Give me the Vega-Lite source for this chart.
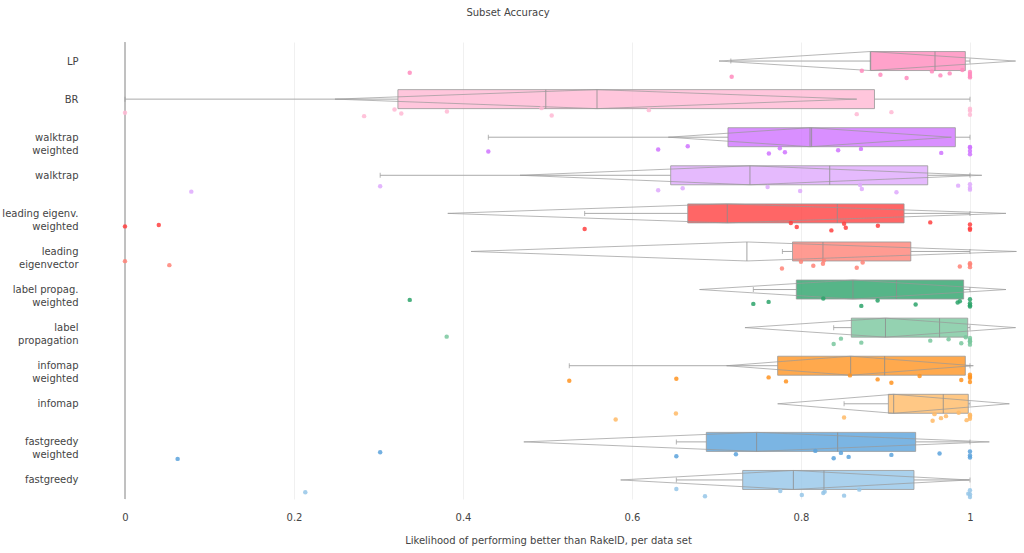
{
  "$schema": "https://vega.github.io/schema/vega-lite/v6.json",
  "width": 912,
  "height": 457,
  "autosize": "none",
  "padding": {"left": 108, "top": 42, "right": 4, "bottom": 54},
  "background": "white",
  "title": {"text": "Subset Accuracy", "anchor": "middle", "frame": "group", "dx": -56, "offset": 24, "font": "DejaVu Sans", "fontSize": 10, "fontWeight": "normal", "color": "#444"},
  "config": {
    "view": {"stroke": null},
    "axisX": {
      "grid": true, "gridColor": "#f0f0f0", "domain": false, "ticks": false,
      "labelPadding": 13, "titlePadding": 13, "titleX": 440,
      "labelFont": "DejaVu Sans", "labelFontSize": 10, "labelColor": "#444",
      "titleFont": "DejaVu Sans", "titleFontSize": 10, "titleFontWeight": "normal", "titleColor": "#444"
    },
    "axisY": {
      "ticks": false, "domain": false, "grid": false, "labelOverlap": false,
      "labelPadding": 30, "labelFont": "DejaVu Sans", "labelFontSize": 10, "labelColor": "#444", "labelLineHeight": 13
    }
  },
  "datasets": {
    "stats": [
      {"m": "LP", "lo": 0.717, "q1": 0.8825, "med": 0.9586, "mean": 0.882, "q3": 0.9945, "hi": 1.0, "dl": 0.703, "dr": 1.054},
      {"m": "BR", "lo": 0.0, "q1": 0.323, "med": 0.498, "mean": 0.5586, "q3": 0.887, "hi": 1.0, "dl": 0.2485, "dr": 0.866},
      {"m": "walktrap weighted", "lo": 0.43, "q1": 0.7136, "med": 0.8126, "mean": 0.8107, "q3": 0.9827, "hi": 1.0, "dl": 0.643, "dr": 0.978},
      {"m": "walktrap", "lo": 0.302, "q1": 0.6458, "med": 0.834, "mean": 0.7396, "q3": 0.95, "hi": 1.0, "dl": 0.4675, "dr": 1.014},
      {"m": "leading eigenv. weighted", "lo": 0.544, "q1": 0.666, "med": 0.843, "mean": 0.7128, "q3": 0.922, "hi": 1.0, "dl": 0.382, "dr": 1.0426},
      {"m": "leading eigenvector", "lo": 0.778, "q1": 0.79, "med": 0.826, "mean": 0.736, "q3": 0.93, "hi": 1.0, "dl": 0.4095, "dr": 1.055},
      {"m": "label propag. weighted", "lo": 0.7436, "q1": 0.7945, "med": 0.913, "mean": 0.8615, "q3": 0.9925, "hi": 1.0, "dl": 0.68, "dr": 1.0426},
      {"m": "label propagation", "lo": 0.8387, "q1": 0.8596, "med": 0.964, "mean": 0.9, "q3": 0.9973, "hi": 1.0, "dl": 0.7337, "dr": 1.054},
      {"m": "infomap weighted", "lo": 0.5258, "q1": 0.7724, "med": 0.899, "mean": 0.8588, "q3": 0.9945, "hi": 1.0, "dl": 0.712, "dr": 1.004},
      {"m": "infomap", "lo": 0.851, "q1": 0.9034, "med": 0.9684, "mean": 0.9097, "q3": 0.998, "hi": 1.0, "dl": 0.7724, "dr": 1.0466},
      {"m": "fastgreedy weighted", "lo": 0.6525, "q1": 0.688, "med": 0.8434, "mean": 0.7475, "q3": 0.9357, "hi": 1.0, "dl": 0.472, "dr": 1.0229},
      {"m": "fastgreedy", "lo": 0.6525, "q1": 0.731, "med": 0.8272, "mean": 0.791, "q3": 0.9337, "hi": 1.0, "dl": 0.5866, "dr": 0.999}
    ],
    "pts": [
      {"m": "LP", "v": 0.337, "ds": 5}, {"m": "LP", "v": 0.718, "ds": 11}, {"m": "LP", "v": 0.872, "ds": 2}, {"m": "LP", "v": 0.894, "ds": 8}, {"m": "LP", "v": 0.925, "ds": 13}, {"m": "LP", "v": 0.955, "ds": 3}, {"m": "LP", "v": 0.965, "ds": 9}, {"m": "LP", "v": 0.976, "ds": 6}, {"m": "LP", "v": 0.991, "ds": 1}, {"m": "LP", "v": 1.0, "ds": 12}, {"m": "LP", "v": 1.0, "ds": 4}, {"m": "LP", "v": 1.0, "ds": 10}, {"m": "LP", "v": 1.0, "ds": 7},
      {"m": "BR", "v": 0.0, "ds": 8}, {"m": "BR", "v": 0.283, "ds": 13}, {"m": "BR", "v": 0.319, "ds": 3}, {"m": "BR", "v": 0.327, "ds": 9}, {"m": "BR", "v": 0.381, "ds": 6}, {"m": "BR", "v": 0.493, "ds": 1}, {"m": "BR", "v": 0.505, "ds": 12}, {"m": "BR", "v": 0.62, "ds": 4}, {"m": "BR", "v": 0.866, "ds": 10}, {"m": "BR", "v": 0.907, "ds": 7}, {"m": "BR", "v": 1.0, "ds": 5}, {"m": "BR", "v": 1.0, "ds": 11}, {"m": "BR", "v": 1.0, "ds": 2},
      {"m": "walktrap weighted", "v": 0.43, "ds": 9}, {"m": "walktrap weighted", "v": 0.631, "ds": 6}, {"m": "walktrap weighted", "v": 0.666, "ds": 1}, {"m": "walktrap weighted", "v": 0.762, "ds": 12}, {"m": "walktrap weighted", "v": 0.775, "ds": 4}, {"m": "walktrap weighted", "v": 0.781, "ds": 10}, {"m": "walktrap weighted", "v": 0.844, "ds": 7}, {"m": "walktrap weighted", "v": 0.871, "ds": 5}, {"m": "walktrap weighted", "v": 0.966, "ds": 11}, {"m": "walktrap weighted", "v": 1.0, "ds": 2}, {"m": "walktrap weighted", "v": 1.0, "ds": 8}, {"m": "walktrap weighted", "v": 1.0, "ds": 13}, {"m": "walktrap weighted", "v": 1.0, "ds": 3},
      {"m": "walktrap", "v": 0.0785, "ds": 12}, {"m": "walktrap", "v": 0.302, "ds": 4}, {"m": "walktrap", "v": 0.631, "ds": 10}, {"m": "walktrap", "v": 0.66, "ds": 7}, {"m": "walktrap", "v": 0.7605, "ds": 5}, {"m": "walktrap", "v": 0.799, "ds": 11}, {"m": "walktrap", "v": 0.87, "ds": 2}, {"m": "walktrap", "v": 0.872, "ds": 8}, {"m": "walktrap", "v": 0.913, "ds": 13}, {"m": "walktrap", "v": 0.986, "ds": 3}, {"m": "walktrap", "v": 1.0, "ds": 9}, {"m": "walktrap", "v": 1.0, "ds": 6}, {"m": "walktrap", "v": 1.0, "ds": 1},
      {"m": "leading eigenv. weighted", "v": 0.0, "ds": 7}, {"m": "leading eigenv. weighted", "v": 0.04, "ds": 5}, {"m": "leading eigenv. weighted", "v": 0.544, "ds": 11}, {"m": "leading eigenv. weighted", "v": 0.788, "ds": 2}, {"m": "leading eigenv. weighted", "v": 0.795, "ds": 8}, {"m": "leading eigenv. weighted", "v": 0.836, "ds": 13}, {"m": "leading eigenv. weighted", "v": 0.851, "ds": 3}, {"m": "leading eigenv. weighted", "v": 0.853, "ds": 9}, {"m": "leading eigenv. weighted", "v": 0.891, "ds": 6}, {"m": "leading eigenv. weighted", "v": 0.953, "ds": 1}, {"m": "leading eigenv. weighted", "v": 1.0, "ds": 12}, {"m": "leading eigenv. weighted", "v": 1.0, "ds": 4}, {"m": "leading eigenv. weighted", "v": 1.0, "ds": 10},
      {"m": "leading eigenvector", "v": 0.0, "ds": 2}, {"m": "leading eigenvector", "v": 0.0525, "ds": 8}, {"m": "leading eigenvector", "v": 0.7775, "ds": 13}, {"m": "leading eigenvector", "v": 0.8, "ds": 3}, {"m": "leading eigenvector", "v": 0.8146, "ds": 9}, {"m": "leading eigenvector", "v": 0.826, "ds": 6}, {"m": "leading eigenvector", "v": 0.827, "ds": 1}, {"m": "leading eigenvector", "v": 0.866, "ds": 12}, {"m": "leading eigenvector", "v": 0.873, "ds": 4}, {"m": "leading eigenvector", "v": 0.988, "ds": 10}, {"m": "leading eigenvector", "v": 1.0, "ds": 7}, {"m": "leading eigenvector", "v": 1.0, "ds": 5}, {"m": "leading eigenvector", "v": 1.0, "ds": 11},
      {"m": "label propag. weighted", "v": 0.337, "ds": 3}, {"m": "label propag. weighted", "v": 0.7436, "ds": 9}, {"m": "label propag. weighted", "v": 0.7617, "ds": 6}, {"m": "label propag. weighted", "v": 0.8264, "ds": 1}, {"m": "label propag. weighted", "v": 0.8714, "ds": 12}, {"m": "label propag. weighted", "v": 0.8907, "ds": 4}, {"m": "label propag. weighted", "v": 0.9357, "ds": 10}, {"m": "label propag. weighted", "v": 0.9854, "ds": 7}, {"m": "label propag. weighted", "v": 0.988, "ds": 5}, {"m": "label propag. weighted", "v": 1.0, "ds": 11}, {"m": "label propag. weighted", "v": 1.0, "ds": 2}, {"m": "label propag. weighted", "v": 1.0, "ds": 8}, {"m": "label propag. weighted", "v": 1.0, "ds": 13},
      {"m": "label propagation", "v": 0.3807, "ds": 1}, {"m": "label propagation", "v": 0.8387, "ds": 12}, {"m": "label propagation", "v": 0.8473, "ds": 4}, {"m": "label propagation", "v": 0.8714, "ds": 10}, {"m": "label propagation", "v": 0.953, "ds": 7}, {"m": "label propagation", "v": 0.9747, "ds": 5}, {"m": "label propagation", "v": 0.9897, "ds": 11}, {"m": "label propagation", "v": 0.995, "ds": 2}, {"m": "label propagation", "v": 1.0, "ds": 8}, {"m": "label propagation", "v": 1.0, "ds": 13}, {"m": "label propagation", "v": 1.0, "ds": 3}, {"m": "label propagation", "v": 1.0, "ds": 9}, {"m": "label propagation", "v": 1.0, "ds": 6},
      {"m": "infomap weighted", "v": 0.5258, "ds": 10}, {"m": "infomap weighted", "v": 0.6525, "ds": 7}, {"m": "infomap weighted", "v": 0.7617, "ds": 5}, {"m": "infomap weighted", "v": 0.7823, "ds": 11}, {"m": "infomap weighted", "v": 0.858, "ds": 2}, {"m": "infomap weighted", "v": 0.8907, "ds": 8}, {"m": "infomap weighted", "v": 0.907, "ds": 13}, {"m": "infomap weighted", "v": 0.9404, "ds": 3}, {"m": "infomap weighted", "v": 0.9897, "ds": 9}, {"m": "infomap weighted", "v": 1.0, "ds": 6}, {"m": "infomap weighted", "v": 1.0, "ds": 1}, {"m": "infomap weighted", "v": 1.0, "ds": 12}, {"m": "infomap weighted", "v": 1.0, "ds": 4},
      {"m": "infomap", "v": 0.5807, "ds": 11}, {"m": "infomap", "v": 0.652, "ds": 2}, {"m": "infomap", "v": 0.851, "ds": 8}, {"m": "infomap", "v": 0.9558, "ds": 13}, {"m": "infomap", "v": 0.958, "ds": 3}, {"m": "infomap", "v": 0.9657, "ds": 9}, {"m": "infomap", "v": 0.9716, "ds": 6}, {"m": "infomap", "v": 0.9866, "ds": 1}, {"m": "infomap", "v": 0.996, "ds": 12}, {"m": "infomap", "v": 1.0, "ds": 4}, {"m": "infomap", "v": 1.0, "ds": 10}, {"m": "infomap", "v": 1.0, "ds": 7}, {"m": "infomap", "v": 1.0, "ds": 5},
      {"m": "fastgreedy weighted", "v": 0.0623, "ds": 13}, {"m": "fastgreedy weighted", "v": 0.302, "ds": 3}, {"m": "fastgreedy weighted", "v": 0.6525, "ds": 9}, {"m": "fastgreedy weighted", "v": 0.723, "ds": 6}, {"m": "fastgreedy weighted", "v": 0.817, "ds": 1}, {"m": "fastgreedy weighted", "v": 0.8387, "ds": 12}, {"m": "fastgreedy weighted", "v": 0.8473, "ds": 4}, {"m": "fastgreedy weighted", "v": 0.8564, "ds": 10}, {"m": "fastgreedy weighted", "v": 0.907, "ds": 7}, {"m": "fastgreedy weighted", "v": 0.964, "ds": 5}, {"m": "fastgreedy weighted", "v": 1.0, "ds": 11}, {"m": "fastgreedy weighted", "v": 1.0, "ds": 2}, {"m": "fastgreedy weighted", "v": 1.0, "ds": 8},
      {"m": "fastgreedy", "v": 0.2134, "ds": 6}, {"m": "fastgreedy", "v": 0.6525, "ds": 1}, {"m": "fastgreedy", "v": 0.6864, "ds": 12}, {"m": "fastgreedy", "v": 0.7755, "ds": 4}, {"m": "fastgreedy", "v": 0.801, "ds": 10}, {"m": "fastgreedy", "v": 0.8264, "ds": 7}, {"m": "fastgreedy", "v": 0.828, "ds": 5}, {"m": "fastgreedy", "v": 0.851, "ds": 11}, {"m": "fastgreedy", "v": 0.869, "ds": 2}, {"m": "fastgreedy", "v": 0.998, "ds": 8}, {"m": "fastgreedy", "v": 1.0, "ds": 13}, {"m": "fastgreedy", "v": 1.0, "ds": 3}, {"m": "fastgreedy", "v": 1.0, "ds": 9}
    ]
  },
  "layer": [
    {
      "data": {"values": [{}]},
      "mark": {"type": "rule", "color": "#8a8a8a", "strokeWidth": 1},
      "encoding": {
        "x": {"datum": 0, "type": "quantitative", "title": "Likelihood of performing better than RakelD, per data set",
          "scale": {"domain": [-0.0201, 1.0592], "nice": false, "zero": false},
          "axis": {"values": [0, 0.2, 0.4, 0.6, 0.8, 1], "format": "~g"}}
      }
    },
    {
      "data": {"name": "stats"},
      "encoding": {
        "y": {
          "field": "m", "type": "nominal", "title": null,
          "scale": {"type": "point", "padding": 0.5, "domain": ["LP", "BR", "walktrap weighted", "walktrap", "leading eigenv. weighted", "leading eigenvector", "label propag. weighted", "label propagation", "infomap weighted", "infomap", "fastgreedy weighted", "fastgreedy"]},
          "axis": {"labelExpr": "indexof(datum.value, ' ') > 0 ? [substring(datum.value, 0, lastindexof(datum.value, ' ')), substring(datum.value, lastindexof(datum.value, ' ') + 1)] : datum.value"}
        }
      },
      "layer": [
        {
          "mark": {"type": "rule", "color": "#aaaaaa", "strokeWidth": 1},
          "encoding": {"x": {"field": "lo", "type": "quantitative", "title": "Likelihood of performing better than RakelD, per data set", "scale": {"domain": [-0.0201, 1.0592], "nice": false, "zero": false}, "axis": {"values": [0, 0.2, 0.4, 0.6, 0.8, 1], "format": "~g"}}, "x2": {"field": "q1"}}
        },
        {
          "mark": {"type": "rule", "color": "#aaaaaa", "strokeWidth": 1},
          "encoding": {"x": {"field": "q3", "type": "quantitative", "title": "Likelihood of performing better than RakelD, per data set", "scale": {"domain": [-0.0201, 1.0592], "nice": false, "zero": false}, "axis": {"values": [0, 0.2, 0.4, 0.6, 0.8, 1], "format": "~g"}}, "x2": {"field": "hi"}}
        },
        {
          "mark": {"type": "tick", "orient": "vertical", "size": 5, "thickness": 1, "color": "#999999"},
          "encoding": {"x": {"field": "lo", "type": "quantitative", "title": "Likelihood of performing better than RakelD, per data set", "scale": {"domain": [-0.0201, 1.0592], "nice": false, "zero": false}, "axis": {"values": [0, 0.2, 0.4, 0.6, 0.8, 1], "format": "~g"}}}
        },
        {
          "mark": {"type": "tick", "orient": "vertical", "size": 5, "thickness": 1, "color": "#999999"},
          "encoding": {"x": {"field": "hi", "type": "quantitative", "title": "Likelihood of performing better than RakelD, per data set", "scale": {"domain": [-0.0201, 1.0592], "nice": false, "zero": false}, "axis": {"values": [0, 0.2, 0.4, 0.6, 0.8, 1], "format": "~g"}}}
        },
        {
          "mark": {"type": "bar", "size": 19, "fillOpacity": 0.8, "stroke": "#999999", "strokeWidth": 1, "strokeOpacity": 0.8},
          "encoding": {
            "x": {"field": "q1", "type": "quantitative", "title": "Likelihood of performing better than RakelD, per data set", "scale": {"domain": [-0.0201, 1.0592], "nice": false, "zero": false}, "axis": {"values": [0, 0.2, 0.4, 0.6, 0.8, 1], "format": "~g"}},
            "x2": {"field": "q3"},
            "color": {"field": "m", "type": "nominal", "legend": null,
              "scale": {"domain": ["LP", "BR", "walktrap weighted", "walktrap", "leading eigenv. weighted", "leading eigenvector", "label propag. weighted", "label propagation", "infomap weighted", "infomap", "fastgreedy weighted", "fastgreedy"],
                "range": ["#ff8bbd", "#ffb8d3", "#cf73ff", "#dea9fd", "#ff4040", "#ff8277", "#2ca36a", "#79c79e", "#ff9320", "#ffba66", "#5aa2dc", "#95c5e8"]}}
          }
        },
        {
          "mark": {"type": "tick", "orient": "vertical", "size": 19, "thickness": 1, "color": "#8c8c8c", "opacity": 0.8},
          "encoding": {"x": {"field": "med", "type": "quantitative", "title": "Likelihood of performing better than RakelD, per data set", "scale": {"domain": [-0.0201, 1.0592], "nice": false, "zero": false}, "axis": {"values": [0, 0.2, 0.4, 0.6, 0.8, 1], "format": "~g"}}}
        },
        {
          "mark": {"type": "tick", "orient": "vertical", "size": 19, "thickness": 1, "color": "#8c8c8c", "opacity": 0.8},
          "encoding": {"x": {"field": "mean", "type": "quantitative", "title": "Likelihood of performing better than RakelD, per data set", "scale": {"domain": [-0.0201, 1.0592], "nice": false, "zero": false}, "axis": {"values": [0, 0.2, 0.4, 0.6, 0.8, 1], "format": "~g"}}}
        },
        {
          "mark": {"type": "rule", "color": "#999999", "strokeWidth": 1, "opacity": 0.7, "y2Offset": -9.5},
          "encoding": {"x": {"field": "dl", "type": "quantitative", "title": "Likelihood of performing better than RakelD, per data set", "scale": {"domain": [-0.0201, 1.0592], "nice": false, "zero": false}, "axis": {"values": [0, 0.2, 0.4, 0.6, 0.8, 1], "format": "~g"}}, "x2": {"field": "mean"}, "y2": {"field": "m"}}
        },
        {
          "mark": {"type": "rule", "color": "#999999", "strokeWidth": 1, "opacity": 0.7, "y2Offset": 9.5},
          "encoding": {"x": {"field": "dl", "type": "quantitative", "title": "Likelihood of performing better than RakelD, per data set", "scale": {"domain": [-0.0201, 1.0592], "nice": false, "zero": false}, "axis": {"values": [0, 0.2, 0.4, 0.6, 0.8, 1], "format": "~g"}}, "x2": {"field": "mean"}, "y2": {"field": "m"}}
        },
        {
          "mark": {"type": "rule", "color": "#999999", "strokeWidth": 1, "opacity": 0.7, "yOffset": -9.5},
          "encoding": {"x": {"field": "mean", "type": "quantitative", "title": "Likelihood of performing better than RakelD, per data set", "scale": {"domain": [-0.0201, 1.0592], "nice": false, "zero": false}, "axis": {"values": [0, 0.2, 0.4, 0.6, 0.8, 1], "format": "~g"}}, "x2": {"field": "dr"}, "y2": {"field": "m"}}
        },
        {
          "mark": {"type": "rule", "color": "#999999", "strokeWidth": 1, "opacity": 0.7, "yOffset": 9.5},
          "encoding": {"x": {"field": "mean", "type": "quantitative", "title": "Likelihood of performing better than RakelD, per data set", "scale": {"domain": [-0.0201, 1.0592], "nice": false, "zero": false}, "axis": {"values": [0, 0.2, 0.4, 0.6, 0.8, 1], "format": "~g"}}, "x2": {"field": "dr"}, "y2": {"field": "m"}}
        }
      ]
    },
    {
      "data": {"name": "pts"},
      "mark": {"type": "circle", "size": 20, "opacity": 0.85},
      "encoding": {
        "x": {"field": "v", "type": "quantitative", "title": "Likelihood of performing better than RakelD, per data set", "scale": {"domain": [-0.0201, 1.0592], "nice": false, "zero": false}, "axis": {"values": [0, 0.2, 0.4, 0.6, 0.8, 1], "format": "~g"}},
        "y": {"field": "m", "type": "nominal", "title": null,
          "scale": {"type": "point", "padding": 0.5, "domain": ["LP", "BR", "walktrap weighted", "walktrap", "leading eigenv. weighted", "leading eigenvector", "label propag. weighted", "label propagation", "infomap weighted", "infomap", "fastgreedy weighted", "fastgreedy"]},
          "axis": {"labelExpr": "indexof(datum.value, ' ') > 0 ? [substring(datum.value, 0, lastindexof(datum.value, ' ')), substring(datum.value, lastindexof(datum.value, ' ') + 1)] : datum.value"}},
        "yOffset": {"field": "ds", "type": "quantitative", "scale": {"domain": [1, 13], "range": [9, 17], "zero": false, "nice": false}},
        "color": {"field": "m", "type": "nominal", "legend": null}
      }
    }
  ]
}
